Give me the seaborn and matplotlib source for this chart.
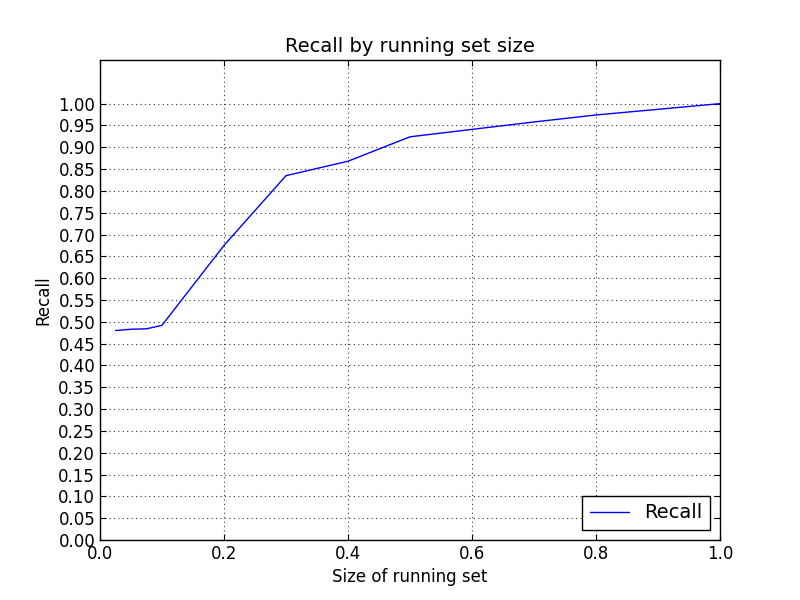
import numpy as np
import pandas as pd
import matplotlib
matplotlib.use('Agg')
import matplotlib.pyplot as plt
import seaborn as sns

# Data =========================================================================
set_size = [0.025, 0.05, 0.075, 0.1, 0.2, 0.3, 0.4, 0.5, 0.6, 0.7, 0.8, 0.9, 1.0]
recall = [0.480, 0.483, 0.484, 0.492, 0.675, 0.835, 0.868, 0.924, 0.941,
          0.958, 0.974, 0.987, 1.000]

df = pd.DataFrame({'size': set_size, 'Recall': recall})

# Style ========================================================================
sns.set_style('white')
plt.rcParams['font.family'] = ['DejaVu Sans']
plt.rcParams['text.color'] = 'black'
plt.rcParams['axes.labelcolor'] = 'black'
plt.rcParams['xtick.color'] = 'black'
plt.rcParams['ytick.color'] = 'black'
plt.rcParams['xtick.direction'] = 'in'
plt.rcParams['ytick.direction'] = 'in'

fig = plt.figure(figsize=(8, 6), dpi=100)
ax = fig.add_axes([0.125, 0.1, 0.775, 0.8])

sns.lineplot(data=df, x='size', y='Recall', color='blue', linewidth=1,
             label='Recall', ax=ax)

ax.set_xlim(0, 1.0)
ax.set_ylim(0, 1.1)
ax.set_xticks(np.arange(0, 1.01, 0.2))
ax.set_yticks(np.arange(0, 1.001, 0.05))
ax.set_yticklabels([f'{v:.2f}' for v in np.arange(0, 1.001, 0.05)])
ax.tick_params(labelsize=12, length=4, width=0.8, color='black',
               labelcolor='black',
               top=True, right=True, left=True, bottom=True)

# dotted grid like the old matplotlib default
ax.grid(True, color='#333333', linestyle=(0, (1, 3)), linewidth=0.8)
for spine in ax.spines.values():
    spine.set_color('black')
    spine.set_linewidth(1)

ax.set_xlabel('Size of running set', fontsize=12, color='black')
ax.set_ylabel('Recall', fontsize=12, color='black')
ax.set_title('Recall by running set size', fontsize=14, color='black')

leg = ax.legend(loc='lower right', fontsize=14, fancybox=False, framealpha=1,
                edgecolor='black', handlelength=2.0)
leg.get_frame().set_linewidth(1)
for t in leg.get_texts():
    t.set_color('black')

fig.savefig('out.png', dpi=100, facecolor='white')
